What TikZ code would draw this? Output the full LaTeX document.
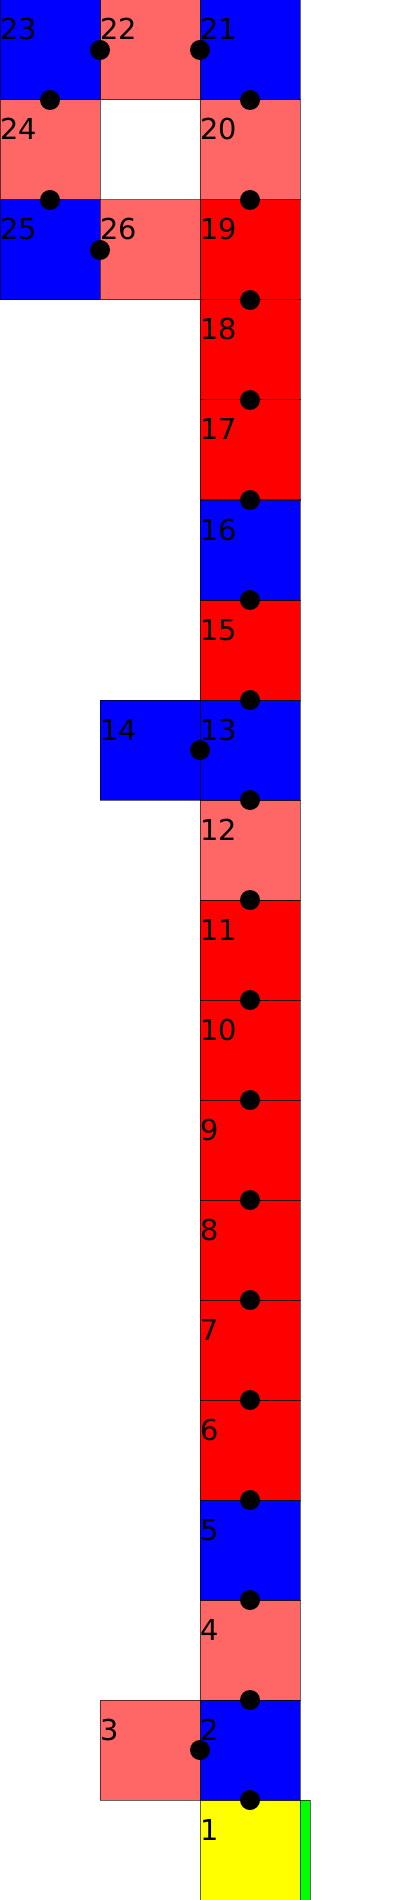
\documentclass[tikz,border=0pt]{standalone}
\usepackage{fontspec}
\setmainfont{DejaVu Sans}
\usepackage{tikz}
\usetikzlibrary{positioning}
\definecolor{cellblue}{RGB}{0,0,255}
\definecolor{cellpink}{RGB}{255,102,102}
\definecolor{cellred}{RGB}{255,0,0}
\definecolor{cellyellow}{RGB}{255,255,0}
\definecolor{cellgreen}{RGB}{0,255,0}
\tikzstyle{cellbox}=[rectangle,draw=black,draw opacity=0.6,line width=0.02cm,
                    minimum size=2cm,inner sep=0pt,outer sep=0pt]
\tikzstyle{num}=[anchor=base west,inner sep=0pt,font=\fontsize{16.4}{19}\selectfont]
\tikzstyle{dot}=[circle,fill=black,minimum size=0.4cm,inner sep=0pt]

\begin{document}
\begin{tikzpicture}[node distance=0pt]
      \useasboundingbox (0,0) rectangle (8,-38);
      \node[cellbox,fill=cellyellow] (c1) at (5,-37) {};
      \node[cellbox,fill=cellgreen,minimum width=0.2cm,right=of c1] (bar) {};
      \node[cellbox,fill=cellblue,above=of c1] (c2) {};
      \node[cellbox,fill=cellpink,left=of c2] (c3) {};
      \node[cellbox,fill=cellpink,above=of c2] (c4) {};
      \node[cellbox,fill=cellblue,above=of c4] (c5) {};
      \node[cellbox,fill=cellred,above=of c5] (c6) {};
      \node[cellbox,fill=cellred,above=of c6] (c7) {};
      \node[cellbox,fill=cellred,above=of c7] (c8) {};
      \node[cellbox,fill=cellred,above=of c8] (c9) {};
      \node[cellbox,fill=cellred,above=of c9] (c10) {};
      \node[cellbox,fill=cellred,above=of c10] (c11) {};
      \node[cellbox,fill=cellpink,above=of c11] (c12) {};
      \node[cellbox,fill=cellblue,above=of c12] (c13) {};
      \node[cellbox,fill=cellblue,left=of c13] (c14) {};
      \node[cellbox,fill=cellred,above=of c13] (c15) {};
      \node[cellbox,fill=cellblue,above=of c15] (c16) {};
      \node[cellbox,fill=cellred,above=of c16] (c17) {};
      \node[cellbox,fill=cellred,above=of c17] (c18) {};
      \node[cellbox,fill=cellred,above=of c18] (c19) {};
      \node[cellbox,fill=cellpink,above=of c19] (c20) {};
      \node[cellbox,fill=cellblue,above=of c20] (c21) {};
      \node[cellbox,fill=cellpink,left=of c21] (c22) {};
      \node[cellbox,fill=cellblue,left=of c22] (c23) {};
      \node[cellbox,fill=cellpink,below=of c23] (c24) {};
      \node[cellbox,fill=cellblue,below=of c24] (c25) {};
      \node[cellbox,fill=cellpink,right=of c25] (c26) {};
      % cell numbers
      \foreach \i in {1,...,26}
        \node[num] at ([yshift=-0.8cm]c\i.north west) {\i};
      % joints
      \foreach \i in {1,2,4,5,6,7,8,9,10,11,12,13,15,16,17,18,19,20}
        \node[dot] at (c\i.north) {};
      \foreach \i in {2,13,21,22}
        \node[dot] at (c\i.west) {};
      \node[dot] at (c23.south) {};
      \node[dot] at (c24.south) {};
      \node[dot] at (c25.east) {};
    \end{tikzpicture}
\end{document}
